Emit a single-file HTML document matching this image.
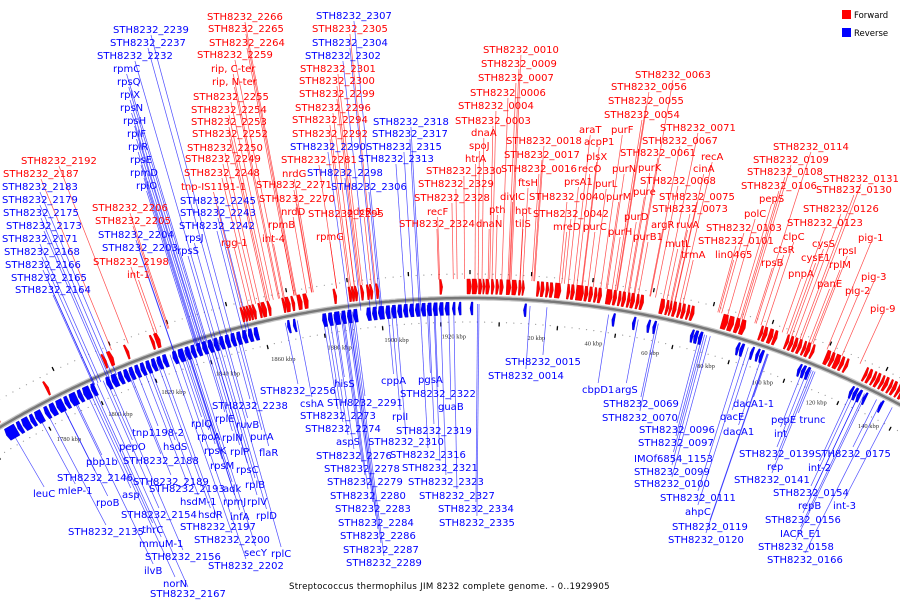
<!DOCTYPE html>
<html><head><meta charset="utf-8"><style>
html,body{margin:0;padding:0;background:#fff;}
svg{display:block;font-family:"DejaVu Sans","Liberation Sans",sans-serif;}
</style></head><body>
<svg id="chart" width="900" height="600" viewBox="0 0 900 600">
<g id="ticks"></g>
<g id="leaders"></g>
<g id="genes"></g>
<g id="labels"></g>
<g>
  <rect x="842" y="10" width="9" height="9" fill="#f00"/>
  <text x="854" y="18" font-size="8.5" fill="#000">Forward</text>
  <rect x="842" y="28" width="9" height="9" fill="#00f"/>
  <text x="854" y="36" font-size="8.5" fill="#000">Reverse</text>
</g>
<text x="289" y="589" font-size="8.6" fill="#000" letter-spacing="0.3">Streptococcus thermophilus JIM 8232 complete genome. - 0..1929905</text>
</svg>
<script>
// ---- data ----
const genomeLenKbp = 1929.905;
const tickValues = [1780,1800,1820,1840,1860,1880,1900,1920,20,40,60,80,100,120,140];
const forwardGenes = [[-164,-163],[-145,-144],[-124,-123],[-122,-120.5],[-116,-115],[-107,-106],[-105.5,-104],
[-76,-75],[-75,-74],[-74,-73],[-73,-72],[-72,-71],[-70,-69],[-69,-67.5],[-67,-66],[-62,-61],[-61,-59.5],[-59,-58],[-57,-55.5],[-55,-53.5],[-45,-44],[-40,-39],[-39,-38],[-38,-37],[-36,-35],[-34,-33],[-33,-32],[-31,-30],
[-10,-9],[-1,0.5],[0.7,2.5],[2.8,4],[4.2,5],[5.2,6.5],[7,8],[8.5,9.5],[9.8,11],[12,13.5],[13.8,15.5],[16,17],[17.2,18],
[22,23],[23.3,24.5],[25,26],[26.3,27.5],[28,30],[32,33],[33.3,34.5],[35,37.5],[37.8,39],[39.3,40.5],[41,42],[42.3,43.5],
[45,47],[47.3,48.5],[49,50],[50.3,51.5],[52,53],[53.2,54.5],[55,56],[56.3,57.5],
[63,64.5],[65,66],[66.2,67],[67.3,68.5],[69,70],[70.3,71.5],[72,73],[73.3,74.5],
[84,86],[86.2,88],[88.5,90],[90.3,92],[97,98],[98.2,99.5],[100,101.5],[101.8,103],
[106,107],[107.3,108.5],[108.8,110],[110.3,111.5],[112,113],[113.2,114.5],[115,116],
[120,121.5],[121.8,123],[123.3,125],[125.3,126.5],[127,128],
[134,135],[135.3,136.5],[137,138],[138.3,139.5],[140,141],[141.3,142.5],[143,144],[144.3,145.5],[146,147],[147.3,148.5]];
const reverseGenes = [[-164,-160],[-159.5,-158],[-157.5,-155],[-154.5,-153],[-152.5,-150],[-149,-147.5],[-147,-145],[-144.5,-142],[-141.5,-140],[-139.5,-137],[-136.5,-135],[-134.5,-132],[-131.5,-130],
[-126,-124.5],[-124,-122],[-121.5,-120],[-119.5,-118],[-117.5,-116],[-115.5,-114],[-113.5,-112],[-111.5,-110],[-109.5,-108],[-107.5,-106],[-105.5,-104],
[-102,-100.5],[-100,-98],[-97.5,-96],[-95.5,-94],[-93.5,-92],[-91.5,-90],[-89.5,-88],[-87.5,-86],[-85.5,-84],[-83.5,-82],[-81.5,-80],[-79.5,-78],[-77.5,-76],[-75.5,-74],[-73.5,-72],
[-62,-61],[-60,-59],[-50,-48.5],[-48,-46.5],[-46,-44],[-43.5,-42],[-41.5,-40],[-39.5,-38],
[-35,-33.5],[-33,-31.5],[-31,-29],[-28.5,-27],[-26.5,-25],[-24.5,-23],[-22.5,-21],[-20.5,-19],[-18.5,-17],[-16.5,-15],[-14.5,-13],[-12.5,-11],[-10.5,-9],[-8.5,-7],
[-6,-5],[-4,-3],[0,1],[18,19],[48,49],[55,56],[60,61],[62,63],
[75,76],[76.2,77.5],[77.8,79],[91,92],[92.3,93.5],[96,97],[98,99],[99.3,100.5],
[113,114],[114.3,115.5],[115.8,117],[132,133],[133.3,134.5],[134.8,136],[137,138],[143,144]];
const labelTexts = [
["STH8232_2239",113,29,"b"],["STH8232_2237",110,42,"b"],["STH8232_2232",97,55,"b"],["rpmC",113,68,"b"],["rpsQ",117,81,"b"],["rplX",120,94,"b"],["rpsN",120,107,"b"],["rpsH",123,120,"b"],["rplF",127,133,"b"],["rplR",128,146,"b"],["rpsE",130,159,"b"],["rpmD",130,172,"b"],["rplO",136,185,"b"],
["STH8232_2245",180,200,"b"],["STH8232_2243",180,212,"b"],["STH8232_2242",179,225,"b"],["rpsJ",185,237,"b"],["rpsS",177,250,"b"],["STH8232_2204",98,234,"b"],["STH8232_2203",102,247,"b"],
["STH8232_2183",2,186,"b"],["STH8232_2179",2,199,"b"],["STH8232_2175",3,212,"b"],["STH8232_2173",6,225,"b"],["STH8232_2171",2,238,"b"],["STH8232_2168",4,251,"b"],["STH8232_2166",5,264,"b"],["STH8232_2165",11,277,"b"],["STH8232_2164",15,289,"b"],
["STH8232_2192",21,160,"r"],["STH8232_2187",3,173,"r"],["STH8232_2206",92,207,"r"],["STH8232_2205",95,220,"r"],["STH8232_2198",93,261,"r"],["int-1",127,274,"r"],["tnp-IS1191-1",181,186,"r"],["rgg-1",221,242,"r"],
["STH8232_2266",207,16,"r"],["STH8232_2265",208,28,"r"],["STH8232_2264",209,42,"r"],["STH8232_2259",197,54,"r"],["rip, C-ter",211,68,"r"],["rip, N-ter",212,81,"r"],["STH8232_2255",193,96,"r"],["STH8232_2254",191,109,"r"],["STH8232_2253",191,121,"r"],["STH8232_2252",192,133,"r"],["STH8232_2250",187,147,"r"],["STH8232_2249",185,158,"r"],["STH8232_2248",184,172,"r"],
["STH8232_2271",256,184,"r"],["STH8232_2270",259,198,"r"],["nrdG",282,173,"r"],["nrdD",281,211,"r"],["rpmB",268,224,"r"],["int-4",262,238,"r"],["STH8232_2281",281,159,"r"],["rpmG",316,236,"r"],["STH8232_2295",308,213,"r"],["adcR-1",347,211,"r"],
["STH8232_2301",300,68,"r"],["STH8232_2300",299,80,"r"],["STH8232_2299",299,93,"r"],["STH8232_2296",295,107,"r"],["STH8232_2294",292,119,"r"],["STH8232_2292",292,133,"r"],["STH8232_2305",312,28,"r"],
["STH8232_2307",316,15,"b"],["STH8232_2304",312,42,"b"],["STH8232_2302",305,55,"b"],["STH8232_2290",290,146,"b"],["STH8232_2298",307,172,"b"],["STH8232_2306",331,186,"b"],["STH8232_2318",373,121,"b"],["STH8232_2317",372,133,"b"],["STH8232_2315",366,146,"b"],["STH8232_2313",358,158,"b"],
["recF",427,211,"r"],["STH8232_2324",399,223,"r"],["STH8232_2328",414,197,"r"],["STH8232_2329",418,183,"r"],["STH8232_2330",426,170,"r"],["htrA",465,158,"r"],["spoJ",469,145,"r"],["dnaA",471,132,"r"],["STH8232_0003",455,120,"r"],["STH8232_0004",458,105,"r"],["STH8232_0006",470,92,"r"],["STH8232_0007",478,77,"r"],["STH8232_0009",481,63,"r"],["STH8232_0010",483,49,"r"],
["STH8232_0018",506,140,"r"],["STH8232_0017",504,154,"r"],["STH8232_0016",501,168,"r"],["ftsH",518,182,"r"],["divIC",500,196,"r"],["pth",489,209,"r"],["hpt",515,210,"r"],["dnaN",476,223,"r"],["tilS",515,223,"r"],["STH8232_0040",529,196,"r"],["STH8232_0042",533,213,"r"],["mreD",553,226,"r"],["purC",583,226,"r"],
["araT",579,129,"r"],["acpP1",584,141,"r"],["plsX",586,156,"r"],["recO",578,168,"r"],["prsA1",564,181,"r"],["purL",595,183,"r"],["purF",611,129,"r"],["purN",612,168,"r"],["purM",606,196,"r"],["purH",608,231,"r"],["purD",624,216,"r"],["purB1",633,236,"r"],
["STH8232_0063",635,74,"r"],["STH8232_0056",611,86,"r"],["STH8232_0055",608,100,"r"],["STH8232_0054",604,114,"r"],["STH8232_0071",660,127,"r"],["STH8232_0067",642,140,"r"],["STH8232_0061",620,152,"r"],["recA",701,156,"r"],["purK",638,167,"r"],["cinA",693,168,"r"],["STH8232_0068",640,180,"r"],["pure",633,191,"r"],["STH8232_0075",659,196,"r"],["STH8232_0073",652,208,"r"],["argR",651,224,"r"],["ruvA",676,224,"r"],["mutL",665,243,"r"],["trmA",681,254,"r"],
["STH8232_0103",706,227,"r"],["STH8232_0101",698,240,"r"],["lin0465",715,254,"r"],["STH8232_0114",773,146,"r"],["STH8232_0109",753,159,"r"],["STH8232_0108",747,171,"r"],["STH8232_0106",741,185,"r"],["pepS",759,198,"r"],["polC",744,213,"r"],["STH8232_0131",823,178,"r"],["STH8232_0130",816,189,"r"],["STH8232_0126",803,208,"r"],["STH8232_0123",787,222,"r"],["clpC",783,236,"r"],["ctsR",773,249,"r"],["rpsB",761,262,"r"],["cysS",812,243,"r"],["cysE1",801,257,"r"],["rpsI",838,250,"r"],["rplM",829,264,"r"],["pnpA",788,273,"r"],["panE",817,283,"r"],["pig-1",858,237,"r"],["pig-3",861,276,"r"],["pig-2",845,290,"r"],["pig-9",870,308,"r"],
["STH8232_2256",260,390,"b"],["STH8232_2238",212,405,"b"],["rplQ",191,423,"b"],["rplE",215,418,"b"],["ruvB",236,424,"b"],["tnp1198-2",132,432,"b"],["rpoA",197,436,"b"],["rplN",222,437,"b"],["purA",250,436,"b"],["pepO",119,446,"b"],["hsdS",163,446,"b"],["rpsK",204,450,"b"],["rplP",230,451,"b"],["flaR",259,452,"b"],
["pbp1b",86,461,"b"],["STH8232_2188",123,460,"b"],["rpsM",210,465,"b"],["rpsC",236,469,"b"],["STH8232_2146",57,477,"b"],["STH8232_2189",133,481,"b"],["mleP-1",58,490,"b"],["leuC",33,493,"b"],["asp",122,494,"b"],["STH8232_2193",149,488,"b"],["adk",223,488,"b"],["rplB",245,484,"b"],
["rpoB",96,502,"b"],["hsdM-1",180,501,"b"],["rpmJ",223,501,"b"],["rplV",247,501,"b"],["STH8232_2154",121,514,"b"],["hsdR",198,514,"b"],["infA",230,516,"b"],["rplD",256,515,"b"],["STH8232_2135",68,531,"b"],["thrC",142,529,"b"],["STH8232_2197",180,526,"b"],["mmuM-1",139,543,"b"],["STH8232_2200",194,539,"b"],["STH8232_2156",145,556,"b"],["secY",244,552,"b"],["rplC",271,553,"b"],["ilvB",144,570,"b"],["STH8232_2202",208,565,"b"],["norN",163,583,"b"],["STH8232_2167",150,593,"b"],
["hisS",334,383,"b"],["cppA",381,380,"b"],["pgsA",418,379,"b"],["cshA",300,403,"b"],["STH8232_2291",327,402,"b"],["STH8232_2322",400,393,"b"],["guaB",438,406,"b"],["STH8232_2273",300,415,"b"],["rplI",392,416,"b"],["STH8232_2274",305,428,"b"],["STH8232_2319",396,430,"b"],["aspS",336,441,"b"],["STH8232_2310",368,441,"b"],["STH8232_2276",316,455,"b"],["STH8232_2316",390,454,"b"],["STH8232_2278",324,468,"b"],["STH8232_2321",402,467,"b"],["STH8232_2279",327,481,"b"],["STH8232_2323",408,481,"b"],["STH8232_2280",330,495,"b"],["STH8232_2327",419,495,"b"],["STH8232_2283",335,508,"b"],["STH8232_2334",438,508,"b"],["STH8232_2284",338,522,"b"],["STH8232_2335",439,522,"b"],["STH8232_2286",340,535,"b"],["STH8232_2287",343,549,"b"],["STH8232_2289",346,562,"b"],["STH8232_0015",505,361,"b"],["STH8232_0014",488,375,"b"],
["cbpD1",582,389,"b"],["argS",615,389,"b"],["STH8232_0069",603,403,"b"],["STH8232_0070",602,417,"b"],["STH8232_0096",639,429,"b"],["STH8232_0097",638,442,"b"],["IMOf6854_1153",634,458,"b"],["STH8232_0099",634,471,"b"],["STH8232_0100",634,483,"b"],["STH8232_0111",660,497,"b"],["ahpC",685,511,"b"],["STH8232_0119",672,526,"b"],["STH8232_0120",668,539,"b"],
["dacA1-1",733,403,"b"],["qacE",720,416,"b"],["dacA1",723,431,"b"],["pepE trunc",771,419,"b"],["int",774,433,"b"],["STH8232_0139",739,453,"b"],["STH8232_0175",815,453,"b"],["rep",767,466,"b"],["int-2",808,467,"b"],["STH8232_0141",734,479,"b"],["STH8232_0154",773,492,"b"],["repB",798,505,"b"],["int-3",833,505,"b"],["STH8232_0156",765,519,"b"],["IACR_E1",780,533,"b"],["STH8232_0158",758,546,"b"],["STH8232_0166",767,559,"b"]
];
// ---- geometry ----
const NS="http://www.w3.org/2000/svg";
const CX=470, CY=1218, R=920, PXK=3;
function ang(p){return p*PXK/R;}
function pt(p,r){const t=ang(p);return [CX+r*Math.sin(t), CY-r*Math.cos(t)];}
function rel(v){return v>1000? v-genomeLenKbp : v;}
function mk(tag,parent,attrs){const e=document.createElementNS(NS,tag);for(const k in attrs)e.setAttribute(k,attrs[k]);parent.appendChild(e);return e;}
const gT=document.getElementById('ticks'),gG=document.getElementById('genes'),gL=document.getElementById('leaders'),gX=document.getElementById('labels');

let d='';for(let p=-175;p<=160;p+=1){const q=pt(p,R);d+=(d?'L':'M')+q[0].toFixed(1)+' '+q[1].toFixed(1);}
const arcBg=mk('path',gT,{d:d,fill:'none',stroke:'#c8c8c8','stroke-width':5});


const arc=mk('path',gT,{d:d,fill:'none',stroke:'#777','stroke-width':2.5});



for(let p=-170;p<=155;p+=2.5){
  [R+24,R-24].forEach(r=>{const q=pt(p,r);const c=mk('circle',gT,{cx:q[0],cy:q[1],r:0.6,fill:'#999'});
  
  });
}
for(let p=-170;p<=155;p+=10){
  const r = (Math.round(p/10)%2===0)? R+26 : R-26;
  const a=pt(p,r-2),b=pt(p,r+2);
  const l=mk('line',gT,{x1:a[0],y1:a[1],x2:b[0],y2:b[1],stroke:'#000','stroke-width':1.3});
  
  
}
tickValues.forEach(v=>{
  const p=rel(v);const q=pt(p,R-40);
  const t=mk('text',gT,{x:q[0],y:q[1],'font-size':6.5,'font-family':'Liberation Serif, serif',fill:'#333'});
  t.textContent=v+' kbp';
  
  
});

function arrow(s,e,r1,r2,fwd){
  const head=Math.min(0.45,(e-s)*0.6);const pts=[];
  if(fwd){pts.push(pt(s,r1),pt(e-head,r1),pt(e,(r1+r2)/2),pt(e-head,r2),pt(s,r2));}
  else{pts.push(pt(e,r1),pt(s+head,r1),pt(s,(r1+r2)/2),pt(s+head,r2),pt(e,r2));}
  return pts.map(q=>q[0].toFixed(1)+','+q[1].toFixed(1)).join(' ');
}
forwardGenes.forEach(g=>{
  const el=mk('polygon',gG,{points:arrow(g[0],g[1],R+4,R+19,true),fill:'#f00',stroke:'#c00','stroke-width':0.4});
  
  
});
reverseGenes.forEach(g=>{
  const el=mk('polygon',gG,{points:arrow(g[0],g[1],R-4,R-17,false),fill:'#00f',stroke:'#00b','stroke-width':0.4});
  
  
});

labelTexts.forEach(L=>{
  const col=L[3]==='r'?'#f00':'#00f';
  const t=mk('text',gX,{x:L[1],y:L[2]+4,'font-size':10,fill:col});
  t.textContent=L[0];
  
  
  let w=L[0].length*6.2;try{w=t.getComputedTextLength();}catch(e){}
  const top = L[2] < 330;
  const sx=L[1]+w/2, sy= top? L[2]+6 : L[2]-6;
  const phi=Math.atan2(sx-CX, CY-sy);
  const rEnd = top ? (L[3]==='r'? R+19 : R-6) : R-6;
  const ex=CX+rEnd*Math.sin(phi), ey=CY-rEnd*Math.cos(phi);
  const ln=mk('line',gL,{x1:sx,y1:sy,x2:ex,y2:ey,stroke:col,'stroke-width':0.7,'stroke-opacity':0.7});
  
  
});
</script>
</body></html>
